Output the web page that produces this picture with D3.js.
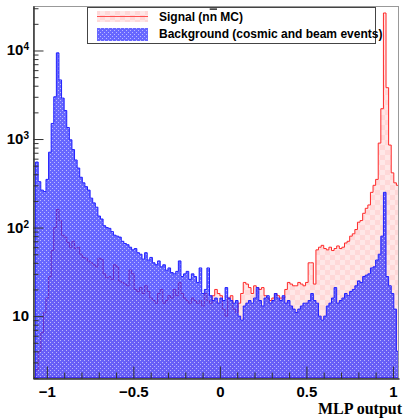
<!DOCTYPE html>
<html>
  <head>
    <meta charset="utf-8" />
    <title>MLP output</title>
    <script src="https://d3js.org/d3.v7.min.js"></script>
    <style>
      body { margin: 0; background: #fff; }
      svg { display: block; }
      .tick-label { font-family: 'Liberation Sans', Arial, sans-serif; font-weight: bold; font-size: 15px; fill: #000; }
      .legend-text { font-family: 'Liberation Sans', Arial, sans-serif; font-weight: bold; font-size: 12px; fill: #000; }
      .axis-title { font-family: 'Liberation Serif', 'Times New Roman', serif; font-weight: bold; font-size: 16px; fill: #000; }
    </style>
  </head>
  <body>
    <div id="chart"></div>
    <script>
      // histogram binning
      const xMin = -1.08;
      const binWidth = 0.015;

      // background (cosmic and beam events), counts per bin
      const background = [
        0, 550, 330, 265, 255, 350, 710, 1500, 3000, 9400,
        4650, 2900, 2100, 1350, 980, 760, 580, 470, 370, 320,
        290, 265, 215, 190, 170, 135, 125, 105, 100, 98,
        90, 82, 80, 78, 70, 66, 64, 60, 56, 58,
        52, 50, 44, 52, 43, 46, 40, 38, 42, 36,
        38, 33, 35, 31, 30, 32, 42, 28, 30, 32,
        26, 30, 28, 24, 35, 18, 20, 35, 17, 15,
        16, 14, 16, 15, 21, 16, 15, 14, 15, 10,
        9, 13, 14, 15, 14, 16, 21, 15, 13, 16,
        17, 14, 15, 18, 16, 15, 17, 14, 15, 13,
        12, 11, 12, 13, 14, 14, 15, 18, 15, 14,
        10, 9, 10, 13, 14, 16, 21, 14, 15, 16,
        18, 17, 19, 20, 22, 25, 24, 28, 29, 30,
        35, 36, 43, 50, 80, 250, 28, 22, 18, 12,
        4,
      ];

      // signal (n nbar MC), counts per bin
      const signal = [
        0, 2.5, 4, 6.5, 11, 16, 28, 55, 100, 160,
        120, 82, 78, 68, 60, 70, 58, 60, 50, 46,
        45, 42, 40, 38, 36, 45, 44, 30, 27, 28,
        26, 38, 36, 25, 24, 23, 22, 33, 30, 20,
        19, 21, 18, 22, 19, 16, 15, 14, 18, 20,
        14, 15, 17, 16, 20, 17, 24, 18, 16, 15,
        14, 16, 15, 14, 15, 13, 18, 15, 14, 17,
        20, 18, 17, 12, 10, 16, 17, 12, 11, 14,
        18, 24, 23, 21, 18, 22, 21, 20, 21, 17,
        16, 15, 16, 18, 17, 16, 16, 20, 24, 23,
        22, 22, 24, 23, 22, 24, 40, 40, 23, 56,
        60, 63, 58, 56, 60, 55, 58, 62, 58, 60,
        67, 70, 80, 85, 95, 115, 120, 145, 165, 180,
        250, 300, 350, 900, 2200, 26500, 3800, 855, 415, 320,
        300,
      ];

      const xMajorTicks = [-1, -0.5, 0, 0.5, 1];
      const yMajorTicks = [10, 100, 1000, 10000];
      const legendLabels = ['Signal (n', 'Background (cosmic and beam events)'];

      const width = 403;
      const height = 419;
      const margin = { top: 6, right: 4, bottom: 41, left: 33 };
      const xMax = xMin + binWidth * background.length;
      const yBottom = height - margin.bottom;

      const x = d3.scaleLinear().domain([xMin, xMax]).range([margin.left, width - margin.right]);
      const y = d3.scaleLog().domain([2, 31800]).range([yBottom, margin.top]).clamp(true);

      const svg = d3.select('#chart').append('svg').attr('width', width).attr('height', height);
      const defs = svg.append('defs');

      // ROOT-like fill patterns; the background one is see-through
      const bgPat = defs.append('pattern').attr('id', 'bgpat')
        .attr('patternUnits', 'userSpaceOnUse').attr('width', 4).attr('height', 4);
      bgPat.append('rect').attr('width', 4).attr('height', 4).attr('fill', 'rgba(45,45,255,0.72)');
      bgPat.append('rect').attr('x', 0).attr('y', 0).attr('width', 1).attr('height', 1).attr('fill', 'rgba(255,255,255,0.55)');
      bgPat.append('rect').attr('x', 2).attr('y', 2).attr('width', 1).attr('height', 1).attr('fill', 'rgba(255,255,255,0.55)');

      const sigPat = defs.append('pattern').attr('id', 'sigpat')
        .attr('patternUnits', 'userSpaceOnUse').attr('width', 10).attr('height', 10);
      sigPat.append('rect').attr('width', 10).attr('height', 10).attr('fill', 'rgba(255,60,60,0.2)');
      sigPat.append('rect').attr('width', 5).attr('height', 5).attr('fill', 'rgba(255,255,255,0.4)');
      sigPat.append('rect').attr('x', 5).attr('y', 5).attr('width', 5).attr('height', 5).attr('fill', 'rgba(255,255,255,0.4)');

      defs.append('clipPath').attr('id', 'plotclip').append('rect')
        .attr('x', margin.left).attr('y', margin.top)
        .attr('width', width - margin.left - margin.right).attr('height', yBottom - margin.top);

      // step histogram as an area
      const hist = d3.area()
        .curve(d3.curveStepAfter)
        .x((d, i) => x(xMin + i * binWidth))
        .y0(yBottom)
        .y1((d) => (d > 0 ? y(d) : yBottom));
      const withEnd = (arr) => arr.concat([arr[arr.length - 1]]);

      // signal first, background drawn over it (as TMVA does)
      const plot = svg.append('g').attr('clip-path', 'url(#plotclip)');
      plot.append('path').datum(withEnd(signal))
        .attr('d', hist).attr('fill', 'url(#sigpat)')
        .attr('stroke', '#ff2a2a').attr('stroke-width', 1);
      plot.append('path').datum(withEnd(background))
        .attr('d', hist).attr('fill', 'url(#bgpat)')
        .attr('stroke', '#2020ff').attr('stroke-width', 1);

      // frame
      svg.append('rect')
        .attr('x', margin.left + 0.5).attr('y', margin.top + 0.5)
        .attr('width', width - margin.left - margin.right - 1).attr('height', yBottom - margin.top)
        .attr('fill', 'none').attr('stroke', '#999');

      // y axis (ticks inward)
      const yMinor = [];
      [1, 10, 100, 1000, 10000].forEach((dec) => {
        for (let k = 2; k <= 9; k++) if (dec * k >= 2 && dec * k <= 31800) yMinor.push(dec * k);
      });
      const yAxis = svg.append('g').attr('transform', `translate(${margin.left + 0.5},0)`);
      yAxis.call(d3.axisLeft(y).tickValues(yMajorTicks).tickSizeInner(-10).tickSizeOuter(0).tickFormat(''));
      yAxis.append('g').call(d3.axisLeft(y).tickValues(yMinor).tickSizeInner(-5).tickSizeOuter(0).tickFormat(''));
      yAxis.selectAll('path.domain').attr('stroke', '#333');
      yAxis.selectAll('line').attr('stroke', '#333');

      yMajorTicks.forEach((v) => {
        const exp = Math.round(Math.log10(v));
        const t = svg.append('text').attr('class', 'tick-label')
          .attr('x', 29).attr('y', y(v) + 5).attr('text-anchor', 'end');
        t.append('tspan').text('10');
        if (exp > 1) t.append('tspan').attr('font-size', '10px').attr('dy', '-5').text(exp);
      });

      // x axis (ticks inward)
      const xMinor = d3.range(-10, 11).map((k) => k / 10).filter((v) => !xMajorTicks.includes(v));
      const xAxis = svg.append('g').attr('transform', `translate(0,${yBottom + 0.5})`);
      xAxis.call(d3.axisBottom(x).tickValues(xMajorTicks).tickSizeInner(-12).tickSizeOuter(0).tickPadding(8)
        .tickFormat((d) => (d < 0 ? '\u2212' + Math.abs(d) : String(d))));
      xAxis.append('g').call(d3.axisBottom(x).tickValues(xMinor).tickSizeInner(-6).tickSizeOuter(0).tickFormat(''));
      xAxis.selectAll('path.domain').attr('stroke', '#333');
      xAxis.selectAll('line').attr('stroke', '#333');
      xAxis.selectAll('text').attr('class', 'tick-label').attr('font-size', null).attr('font-family', null);

      svg.append('text').attr('class', 'axis-title')
        .attr('x', 402).attr('y', 414).attr('text-anchor', 'end').text('MLP output');

      // legend
      const legend = svg.append('g');
      legend.append('rect').attr('x', 87.5).attr('y', 7.5).attr('width', 288).attr('height', 36)
        .attr('fill', '#fff').attr('stroke', '#444');
      legend.append('rect').attr('x', 97).attr('y', 11).attr('width', 51).attr('height', 11).attr('fill', 'url(#sigpat)');
      legend.append('line').attr('x1', 97).attr('x2', 148).attr('y1', 16.5).attr('y2', 16.5)
        .attr('stroke', '#ff5050').attr('stroke-width', 1);
      legend.append('rect').attr('x', 97).attr('y', 28).attr('width', 51).attr('height', 13).attr('fill', 'url(#bgpat)');
      const sigText = legend.append('text').attr('class', 'legend-text').attr('x', 159).attr('y', 20.5)
        .text(legendLabels[0]);
      sigText.append('tspan').attr('text-decoration', 'overline').text('n');
      sigText.append('tspan').text(' MC)');
      legend.append('text').attr('class', 'legend-text').attr('x', 159).attr('y', 37.5).text(legendLabels[1]);
    </script>
  </body>
</html>
